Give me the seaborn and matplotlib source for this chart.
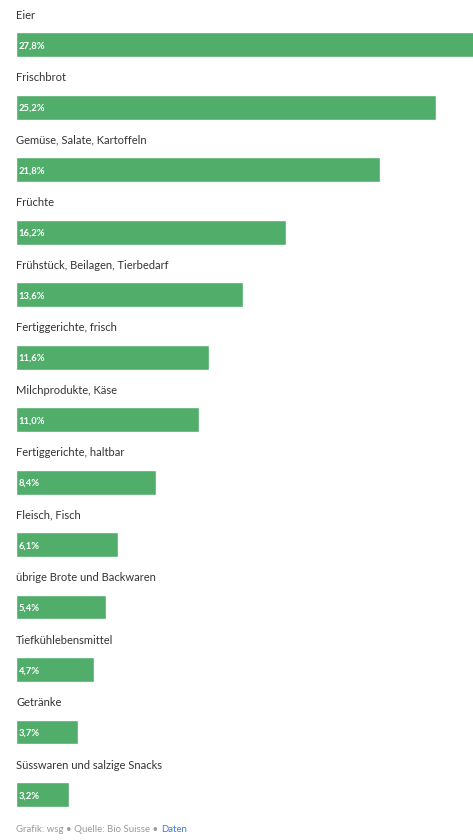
import matplotlib
matplotlib.use("Agg")
import matplotlib.pyplot as plt
import seaborn as sns
import pandas as pd

categories = ["Eier", "Frischbrot", "Gemüse, Salate, Kartoffeln", "Früchte",
              "Frühstück, Beilagen, Tierbedarf", "Fertiggerichte, frisch",
              "Milchprodukte, Käse", "Fertiggerichte, haltbar", "Fleisch, Fisch",
              "übrige Brote und Backwaren", "Tiefkühlebensmittel", "Getränke",
              "Süsswaren und salzige Snacks"]
values = [27.8, 25.2, 21.8, 16.2, 13.6, 11.6, 11.0, 8.4, 6.1, 5.4, 4.7, 3.7, 3.2]
value_labels = ["27,8%", "25,2%", "21,8%", "16,2%", "13,6%", "11,6%", "11,0%",
                "8,4%", "6,1%", "5,4%", "4,7%", "3,7%", "3,2%"]
footer_text = "Grafik: wsg • Quelle: Bio Suisse • "
footer_link = "Daten"

sns.set_theme(style="white")
plt.rcParams['font.family'] = ['Lato', 'DejaVu Sans']

df = pd.DataFrame({"cat": categories, "val": values})

fig = plt.figure(figsize=(4.73, 8.40), dpi=100)
ax = fig.add_axes([16/473, 0.0, 457/473, 1.0])
sns.barplot(data=df, y="cat", x="val", orient="h", color="#50ad6a",
            saturation=1, width=0.4, ax=ax, order=categories)
ax.set_xlim(0, 27.4)
ax.set_ylim(12.728, -0.712)
ax.set_axis_off()

for i, (c, lab) in enumerate(zip(categories, value_labels)):
    ax.text(0, i - 0.47, c, ha="left", va="center", fontsize=8.0, color="#333333")
    ax.text(0.15, i + 0.02, lab, ha="left", va="center", fontsize=6.8,
            color="white", fontweight="bold")

t1 = fig.text(16/473, 1 - 830/840, footer_text, ha="left", va="center",
              fontsize=6.9, color="#999999")
fig.canvas.draw()
bb = t1.get_window_extent()
fig.text(bb.x1 / fig.bbox.width, 1 - 830/840, footer_link, ha="left", va="center",
         fontsize=6.9, color="#3a7bd5")

fig.savefig("out.png", dpi=100)
